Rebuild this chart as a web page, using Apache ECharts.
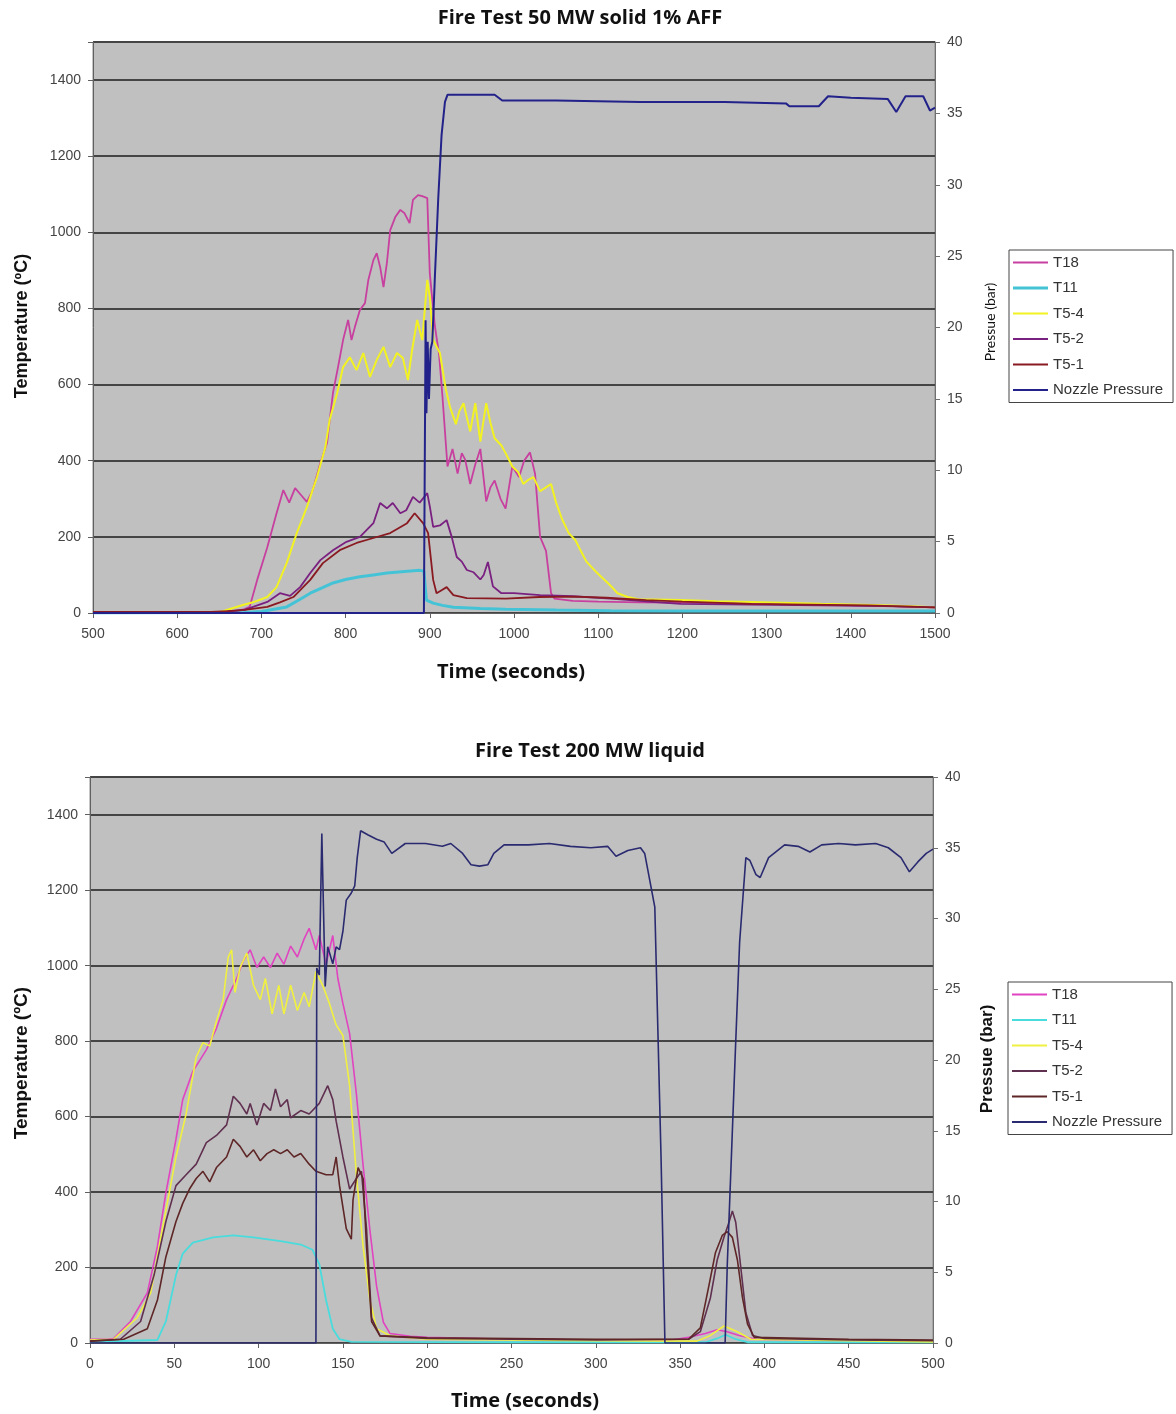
<!DOCTYPE html>
<html>
<head>
<meta charset="utf-8">
<script src="https://cdn.jsdelivr.net/npm/echarts@6/dist/echarts.min.js"></script>
<style>
html,body{margin:0;padding:0;background:#fff;}
#top{position:absolute;left:0;top:0;width:1176px;height:707px;}
#bot{position:absolute;left:0;top:707px;width:1176px;height:707px;}
</style>
</head>
<body>
<div id="top"></div>
<div id="bot"></div>
<script>
// ---------- shared ----------
const seriesNames = ['T18', 'T11', 'T5-4', 'T5-2', 'T5-1', 'Nozzle Pressure'];
const tempTicks = [0, 200, 400, 600, 800, 1000, 1200, 1400];
const pressTicks = [0, 5, 10, 15, 20, 25, 30, 35, 40];

// ---------- top chart: Fire Test 50 MW solid 1% AFF (time, value) ----------
const topTitle = 'Fire Test 50 MW solid 1% AFF';
const topT18 = [[500,2],[600,2],[650,3],[670,5],[680,10],[686,16],[695,87],[707,173],[718,262],[726,323],[733,290],[740,328],[747,310],[754,292],[761,323],[770,394],[778,447],[785,578],[791,646],[797,717],[803,770],[807,717],[811,751],[817,796],[823,814],[827,875],[833,927],[837,945],[841,909],[845,856],[849,919],[853,1006],[859,1040],[865,1059],[870,1050],[876,1024],[880,1085],[886,1098],[891,1095],[897,1090],[900,892],[906,754],[911,680],[915,570],[921,385],[927,431],[933,366],[938,420],[942,403],[948,339],[954,390],[960,431],[967,293],[972,330],[977,348],[984,300],[990,274],[998,385],[1006,357],[1012,400],[1019,422],[1025,366],[1031,200],[1038,163],[1044,52],[1048,38],[1070,32],[1100,30],[1150,28],[1200,27],[1250,26],[1300,24],[1350,22],[1400,20],[1450,18],[1500,15]];
const topT11 = [[500,0],[680,1],[700,4],[715,10],[730,16],[745,35],[758,52],[772,66],[785,79],[800,88],[817,95],[833,100],[849,105],[870,109],[888,112],[893,110],[896,34],[904,26],[915,20],[928,15],[960,12],[990,10],[1050,8],[1115,6],[1200,5],[1300,5],[1400,5],[1500,5]];
const topT54 = [[500,0],[650,2],[678,21],[690,28],[707,42],[718,68],[730,131],[742,210],[754,278],[766,357],[776,436],[781,507],[790,578],[797,646],[805,672],[813,638],[821,683],[829,620],[837,665],[845,699],[853,646],[861,683],[868,670],[874,612],[879,691],[885,770],[891,717],[897,875],[900,830],[904,717],[912,683],[919,588],[924,541],[931,496],[935,530],[940,551],[948,477],[954,551],[960,450],[967,551],[972,500],[977,459],[985,440],[990,420],[998,385],[1005,370],[1011,339],[1017,350],[1023,357],[1031,320],[1038,330],[1044,339],[1050,290],[1057,247],[1065,210],[1073,191],[1080,160],[1086,135],[1098,107],[1115,71],[1123,52],[1135,42],[1148,36],[1198,34],[1240,31],[1282,29],[1365,24],[1449,20],[1500,15]];
const topT52 = [[500,0],[650,2],[680,8],[707,29],[722,52],[734,45],[746,68],[758,105],[770,139],[785,165],[801,187],[817,200],[833,236],[841,289],[849,275],[856,289],[865,262],[872,270],[880,305],[888,290],[897,315],[900,280],[904,226],[912,230],[920,244],[926,200],[932,147],[938,135],[944,113],[952,107],[960,88],[964,100],[969,134],[975,70],[985,52],[1000,52],[1031,47],[1070,44],[1115,38],[1160,30],[1198,24],[1280,22],[1365,20],[1440,18],[1500,15]];
const topT51 = [[500,3],[640,3],[660,5],[680,8],[707,16],[722,28],[738,42],[758,87],[773,131],[793,165],[813,184],[833,197],[853,210],[873,236],[882,262],[892,236],[898,210],[904,87],[908,52],[914,60],[920,68],[928,47],[944,39],[990,38],[1030,42],[1073,43],[1110,40],[1157,34],[1200,30],[1282,24],[1350,22],[1420,20],[1500,15]];
const topPressure = [[500,0],[893,0],[894,0],[895,20.5],[896,14],[897.5,19],[899,15],[901,18.5],[903,19],[906,23.5],[910,29],[914,33.5],[918,35.8],[921,36.3],[950,36.3],[977,36.3],[986,35.9],[1050,35.9],[1150,35.8],[1250,35.8],[1323,35.7],[1327,35.5],[1362,35.5],[1373,36.2],[1400,36.1],[1444,36.0],[1454,35.1],[1465,36.2],[1486,36.2],[1494,35.2],[1500,35.4]];

// ---------- bottom chart: Fire Test 200 MW liquid (time, value) ----------
const botTitle = 'Fire Test 200 MW liquid';
const botT18 = [[0,10],[10,10],[14,12],[24,57],[34,133],[40,256],[45,398],[51,540],[55,645],[61,720],[69,777],[75,834],[81,910],[87,966],[91,1014],[95,1042],[99,995],[103,1023],[107,995],[111,1033],[115,1004],[119,1052],[123,1023],[127,1071],[130,1099],[134,1042],[136,1080],[140,1004],[144,1080],[147,966],[150,900],[154,820],[158,660],[162,470],[166,300],[170,150],[174,55],[178,25],[190,18],[200,15],[250,10],[300,8],[345,8],[355,15],[365,25],[372,35],[378,30],[385,20],[395,10],[450,6],[500,5]];
const botT11 = [[0,3],[40,8],[45,57],[51,180],[55,237],[61,266],[73,280],[85,285],[97,280],[113,270],[125,261],[132,247],[136,209],[140,114],[144,38],[148,10],[155,3],[250,2],[365,2],[372,12],[377,22],[383,10],[390,2],[500,2]];
const botT54 = [[0,8],[14,10],[28,67],[36,133],[43,303],[51,493],[57,607],[63,758],[67,796],[71,787],[75,853],[79,910],[82,1023],[84,1042],[86,929],[89,995],[93,1033],[97,948],[101,910],[104,966],[108,872],[112,948],[115,872],[119,948],[123,881],[127,929],[130,891],[134,985],[138,948],[142,900],[146,843],[150,815],[154,682],[158,446],[162,256],[166,114],[170,38],[178,19],[200,10],[300,6],[360,5],[368,20],[376,45],[384,30],[392,10],[500,3]];
const botT52 = [[0,5],[18,10],[30,57],[38,180],[45,322],[51,417],[57,446],[63,474],[69,531],[75,550],[81,578],[85,654],[89,635],[93,607],[95,635],[99,578],[103,635],[107,616],[110,673],[113,626],[117,645],[119,597],[125,616],[130,607],[136,635],[141,682],[144,645],[146,588],[150,493],[154,408],[158,436],[161,455],[164,303],[167,67],[172,19],[200,12],[300,8],[355,10],[362,30],[368,120],[372,220],[376,280],[379,320],[381,350],[383,320],[386,200],[389,80],[393,20],[400,12],[450,8],[500,6]];
const botT51 = [[0,5],[20,10],[34,38],[40,114],[45,228],[51,322],[55,370],[59,408],[63,436],[67,455],[71,427],[75,465],[81,493],[85,540],[89,521],[93,493],[97,512],[101,483],[105,502],[109,512],[113,502],[117,512],[121,493],[125,502],[130,474],[134,455],[140,446],[144,446],[146,493],[148,417],[152,303],[155,275],[156,379],[159,465],[162,436],[164,256],[167,57],[172,19],[200,14],[300,10],[355,10],[362,40],[367,150],[371,240],[375,285],[378,295],[381,280],[384,220],[387,120],[390,50],[394,15],[450,10],[500,8]];
const botPressure = [[0,0],[134,0],[134.5,26.5],[136,26],[137.5,36],[139.5,25.2],[141,28],[144,26.8],[146,28],[148,27.8],[150,29.1],[152,31.3],[155,31.8],[157,32.3],[158.5,34.3],[160.5,36.2],[165,35.9],[170,35.6],[174.5,35.4],[179,34.6],[187,35.3],[199,35.3],[209,35.1],[214,35.3],[221,34.6],[226,33.8],[231,33.7],[236,33.8],[239.5,34.6],[245.6,35.2],[260,35.2],[272.5,35.3],[285,35.1],[297,35.0],[307,35.1],[312,34.4],[319,34.8],[326.5,35.0],[329,34.6],[335,30.8],[338.7,13.1],[341,0],[376.7,0],[378,5.6],[380.4,13.1],[382.8,20.7],[385.3,28.3],[389,34.3],[391.4,34.1],[395,33.1],[397.5,32.9],[402.5,34.3],[412,35.2],[420,35.1],[427,34.7],[434,35.2],[444,35.3],[454,35.2],[466,35.3],[473.5,35.0],[481,34.3],[486,33.3],[491,34.0],[496,34.6],[500,34.9]];

function lineIcon(w) {
  const a = 7 - w / 2, b = 7 + w / 2;
  return 'path://M0,' + a + 'L35,' + a + 'L35,' + b + 'L0,' + b + 'Z';
}

function buildOption(cfg) {
  const labelFont = {fontFamily: 'Liberation Sans, Arial, sans-serif', fontSize: 14, color: '#444'};
  const series = cfg.data.map((d, i) => ({
    name: seriesNames[i],
    type: 'line',
    data: d,
    yAxisIndex: i === 5 ? 1 : 0,
    showSymbol: false,
    symbol: 'none',
    lineStyle: {color: cfg.colors[i], width: cfg.widths[i]},
    itemStyle: {color: cfg.colors[i]},
    z: i === 5 ? 5 : 2 + i * 0.1,
    animation: false
  }));
  return {
    animation: false,
    grid: {left: cfg.grid[0], top: cfg.grid[1], width: cfg.grid[2], height: cfg.grid[3],
      show: true, backgroundColor: '#c0c0c0', borderColor: '#8a8a8a', borderWidth: 1},
    xAxis: {type: 'value', min: cfg.xMin, max: cfg.xMax, interval: cfg.xInterval,
      axisLine: {lineStyle: {color: '#606060', width: 1}},
      axisTick: {show: true, length: 5, lineStyle: {color: '#606060'}},
      axisLabel: Object.assign({margin: 14, formatter: v => String(v)}, labelFont),
      splitLine: {show: false}},
    yAxis: [
      {type: 'value', min: 0, max: 1500, interval: 200, position: 'left',
        axisLine: {show: true, lineStyle: {color: '#606060'}},
        axisTick: {show: true, length: 5, lineStyle: {color: '#606060'}},
        axisLabel: Object.assign({margin: 12, formatter: v => (tempTicks.indexOf(v) >= 0 ? String(v) : '')}, labelFont),
        splitLine: {show: true, lineStyle: {color: '#454545', width: 2}}},
      {type: 'value', min: 0, max: 40, interval: 5, position: 'right',
        axisLine: {show: true, lineStyle: {color: '#707070'}},
        axisTick: {show: true, length: 5, lineStyle: {color: '#707070'}},
        axisLabel: Object.assign({margin: 12, formatter: v => (pressTicks.indexOf(v) >= 0 ? String(v) : '')}, labelFont),
        splitLine: {show: false}}
    ],
    legend: {orient: 'vertical', left: cfg.legend[0], top: cfg.legend[1],
      itemWidth: 35, itemHeight: 14, itemGap: 10.5, padding: [5, 10, 5, 4],
      backgroundColor: '#fff', borderColor: '#444', borderWidth: 1, selectedMode: false,
      textStyle: {fontFamily: 'Liberation Sans, Arial, sans-serif', fontSize: 15, color: '#333'},
      data: seriesNames.map((n, i) => ({name: n, icon: lineIcon(Math.max(2, cfg.widths[i]))}))},
    graphic: cfg.graphic,
    series: series
  };
}

function txt(text, x, y, font, rot) {
  return {type: 'text', x: x, y: y, rotation: rot || 0, silent: true,
    style: {text: text, x: 0, y: 0, font: font, fill: '#111', align: 'center', verticalAlign: 'middle'}};
}

const topChart = echarts.init(document.getElementById('top'), null, {renderer: 'canvas'});
topChart.setOption(buildOption({
  xMin: 500, xMax: 1500, xInterval: 100,
  grid: [93, 42, 842, 571],
  legend: [1009, 250],
  data: [topT18, topT11, topT54, topT52, topT51, topPressure],
  colors: ['#c8409f', '#45c3d6', '#f2f222', '#7a2080', '#8a1a22', '#22228a'],
  widths: [1.8, 3, 2, 1.8, 1.8, 2],
  graphic: [
    txt(topTitle, 580, 18, 'bold 20px "Open Sans", sans-serif'),
    txt('Time (seconds)', 511, 672, 'bold 20px "Open Sans", sans-serif'),
    txt('Temperature (ºC)', 22, 326, 'bold 18px "Liberation Sans", Arial, sans-serif', Math.PI / 2),
    txt('Pressue (bar)', 990, 322, '14px Lato, sans-serif', Math.PI / 2)
  ]
}));

const botChart = echarts.init(document.getElementById('bot'), null, {renderer: 'canvas'});
botChart.setOption(buildOption({
  xMin: 0, xMax: 500, xInterval: 50,
  grid: [90, 70, 843, 566],
  legend: [1008, 275],
  data: [botT18, botT11, botT54, botT52, botT51, botPressure],
  colors: ['#e044c0', '#48dcdc', '#f0f040', '#603050', '#5e2626', '#2a2a70'],
  widths: [1.6, 1.8, 1.6, 1.6, 1.6, 1.6],
  graphic: [
    txt(botTitle, 590, 44, 'bold 20px "Open Sans", sans-serif'),
    txt('Time (seconds)', 525, 694, 'bold 20px "Open Sans", sans-serif'),
    txt('Temperature (ºC)', 22, 356, 'bold 19px "Liberation Sans", Arial, sans-serif', Math.PI / 2),
    txt('Pressue (bar)', 987, 352, 'bold 17px "Liberation Sans", Arial, sans-serif', Math.PI / 2)
  ]
}));
</script>
</body>
</html>
